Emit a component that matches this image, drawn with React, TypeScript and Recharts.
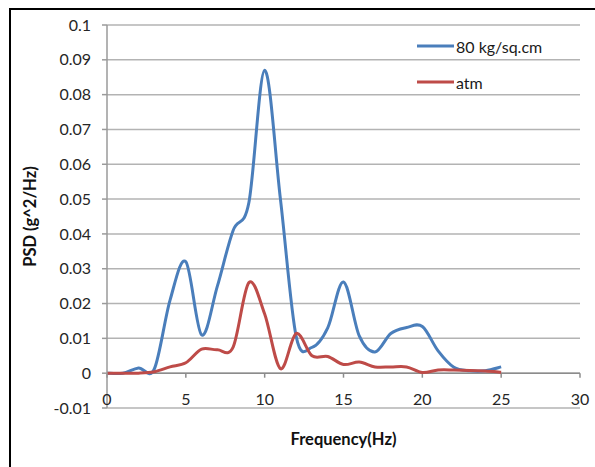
import React from 'react';
import { LineChart, Line, XAxis, YAxis, CartesianGrid, ReferenceLine, Legend, Label } from 'recharts';

const freq = [0, 1, 2, 3, 4, 5, 6, 7, 8, 9, 10, 11, 12, 13, 14, 15, 16, 17, 18, 19, 20, 21, 22, 23, 24, 25];
const psd80 = [0, 0, 0.0015, 0.0012, 0.021, 0.032, 0.011, 0.025, 0.041, 0.049, 0.087, 0.05, 0.0105, 0.0074, 0.013, 0.0262, 0.0107, 0.0061, 0.0114, 0.0131, 0.0134, 0.0064, 0.0017, 0.0007, 0.0007, 0.0018];
const psdAtm = [0, 0, 0, 0.0004, 0.0018, 0.003, 0.0069, 0.0067, 0.0075, 0.026, 0.017, 0.0013, 0.0114, 0.005, 0.0048, 0.0025, 0.0032, 0.0018, 0.0018, 0.0018, 0.0002, 0.0009, 0.0009, 0.0008, 0.0006, 0.0003];
const xTicks = [0, 5, 10, 15, 20, 25, 30];
const yTicks = [-0.01, 0, 0.01, 0.02, 0.03, 0.04, 0.05, 0.06, 0.07, 0.08, 0.09, 0.1];
const seriesNames = ['80 kg/sq.cm', 'atm'];

const rows = freq.map((f, i) => ({ f, a: psd80[i], b: psdAtm[i] }));

const FONT = 'Lato, "Open Sans", sans-serif';

// Excel-like smoothed line (Catmull-Rom through points)
const excelCurve: any = (context: any) => {
  let pts: number[][] = [];
  return {
    areaStart() {},
    areaEnd() {},
    lineStart() { pts = []; },
    point(x: number, y: number) { pts.push([+x, +y]); },
    lineEnd() {
      const n = pts.length;
      if (!n) return;
      context.moveTo(pts[0][0], pts[0][1]);
      const t = 1 / 6;
      for (let i = 0; i < n - 1; i++) {
        const p0 = pts[Math.max(i - 1, 0)];
        const p1 = pts[i];
        const p2 = pts[i + 1];
        const p3 = pts[Math.min(i + 2, n - 1)];
        context.bezierCurveTo(
          p1[0] + (p2[0] - p0[0]) * t, p1[1] + (p2[1] - p0[1]) * t,
          p2[0] - (p3[0] - p1[0]) * t, p2[1] - (p3[1] - p1[1]) * t,
          p2[0], p2[1]
        );
      }
    },
  };
};

const XTick = (p: any) => (
  <text x={p.x} y={p.y} dy={-3} textAnchor="middle" fill="#262626" fontSize={16} fontFamily={FONT}>
    {p.payload.value}
  </text>
);

const LegendContent = (props: any) => {
  const items = props.payload || [];
  return (
    <div style={{ fontFamily: FONT, fontSize: 16, color: '#1a1a1a' }}>
      {items.map((it: any) => (
        <div key={it.value} style={{ display: 'flex', alignItems: 'center', height: 36 }}>
          <svg width={37} height={6} style={{ display: 'block' }}>
            <line x1={0} y1={3} x2={37} y2={3} stroke={it.color} strokeWidth={3} />
          </svg>
          <span style={{ marginLeft: 2 }}>{it.value}</span>
        </div>
      ))}
    </div>
  );
};

export default function App() {
  return (
    <div style={{ position: 'absolute', left: 0, top: 0, width: 595, height: 467, overflow: 'hidden', background: '#fff' }}>
      <div style={{ position: 'absolute', left: 9, top: 8, width: 700, height: 600, borderTop: '2px solid #000', borderLeft: '2px solid #000' }} />
      <div style={{ position: 'absolute', left: 0, top: 0 }}>
        <LineChart width={595} height={467} data={rows} margin={{ top: 25, right: 15, left: 0, bottom: 0 }}>
          <CartesianGrid vertical={false} stroke="#b3b3b3" strokeWidth={1.5} />
          <XAxis
            dataKey="f"
            type="number"
            domain={[0, 30]}
            ticks={xTicks}
            height={59}
            axisLine={false}
            tickLine={false}
            tickSize={0}
            tickMargin={0}
            tick={<XTick />}
            interval={0}
          >
            <Label value="Frequency(Hz)" position="insideBottom" offset={22} style={{ fontFamily: FONT, fontSize: 16.5, fontWeight: 700, fill: '#111' }} />
          </XAxis>
          <YAxis
            type="number"
            domain={[-0.01, 0.1]}
            ticks={yTicks}
            width={107}
            interval={0}
            axisLine={{ stroke: '#9a9a9a', strokeWidth: 1.5 }}
            tickLine={{ stroke: '#9a9a9a', strokeWidth: 1.5 }}
            tickSize={5}
            tickMargin={11}
            tick={{ fill: '#262626', fontSize: 16, fontFamily: FONT }}
          >
            <Label value="PSD (g^2/Hz)" angle={-90} position="insideLeft" offset={30} style={{ textAnchor: 'middle', fontFamily: FONT, fontSize: 16.5, fontWeight: 700, fill: '#111' }} />
          </YAxis>
          <ReferenceLine y={0} stroke="#8c8c8c" strokeWidth={1.5} />
          {xTicks.map((x) => (
            <ReferenceLine key={x} segment={[{ x, y: 0 }, { x, y: -0.0013 }]} stroke="#8c8c8c" strokeWidth={1.5} />
          ))}
          <Legend
            layout="vertical"
            align="center"
            verticalAlign="middle"
            content={<LegendContent />}
            wrapperStyle={{ position: 'absolute', left: 417, top: 28, width: 170 }}
          />
          <Line name={seriesNames[0]} dataKey="a" stroke="#4a7ebb" strokeWidth={3} dot={false} type={excelCurve} isAnimationActive={false} />
          <Line name={seriesNames[1]} dataKey="b" stroke="#be4b48" strokeWidth={3} dot={false} type={excelCurve} isAnimationActive={false} />
        </LineChart>
      </div>
    </div>
  );
}
